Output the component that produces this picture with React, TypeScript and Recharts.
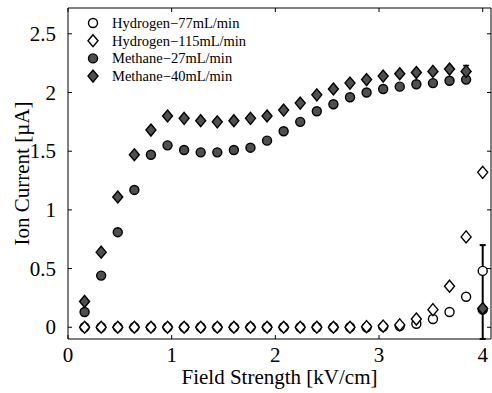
import React from 'react';
import { ScatterChart, Scatter, XAxis, YAxis, ErrorBar, Legend } from 'recharts';

// Field strength steps [kV/cm]
const fieldStrength = [
  0.16, 0.32, 0.48, 0.64, 0.8, 0.96, 1.12, 1.28, 1.44, 1.6, 1.76, 1.92, 2.08,
  2.24, 2.4, 2.56, 2.72, 2.88, 3.04, 3.2, 3.36, 3.52, 3.68, 3.84, 4.0,
];

// Ion current [µA] per gas / flow rate
const hydrogen77 = [
  0, 0, 0, 0, 0, 0, 0, 0, 0, 0, 0, 0, 0, 0, 0, 0, 0, 0, 0.005, 0.01, 0.03,
  0.07, 0.13, 0.26, 0.48,
];
const hydrogen115 = [
  0, 0, 0, 0, 0, 0, 0, 0, 0, 0, 0, 0, 0, 0, 0, 0, 0, 0.005, 0.01, 0.02, 0.07,
  0.15, 0.35, 0.77, 1.32,
];
const methane27 = [
  0.13, 0.44, 0.81, 1.17, 1.47, 1.55, 1.51, 1.49, 1.49, 1.51, 1.53, 1.59, 1.67,
  1.75, 1.84, 1.9, 1.96, 2.0, 2.03, 2.05, 2.07, 2.08, 2.1, 2.11, 0.15,
];
const methane40 = [
  0.22, 0.64, 1.11, 1.47, 1.68, 1.8, 1.78, 1.76, 1.75, 1.76, 1.78, 1.8, 1.85,
  1.91, 1.98, 2.03, 2.08, 2.11, 2.14, 2.16, 2.17, 2.18, 2.2, 2.18, 0.16,
];

// Error bars [lower, upper], keyed by field strength
const methane27Errors: Record<string, [number, number]> = { '4': [0.25, 0.55] };
const methane40Errors: Record<string, [number, number]> = { '3.84': [0.05, 0.05] };

const xTicks = [0, 1, 2, 3, 4];
const yTicks = [0, 0.5, 1, 1.5, 2, 2.5];

const seriesNames = [
  'Hydrogen\u221277mL/min',
  'Hydrogen\u2212115mL/min',
  'Methane\u221227mL/min',
  'Methane\u221240mL/min',
];

const FONT = '"Liberation Serif", "Times New Roman", serif';
const DARK = '#4f4f4f';
const TICK_LEN = 4;

const build = (values: number[], errors?: Record<string, [number, number]>) =>
  fieldStrength.map((x, i) => ({
    x,
    y: values[i],
    err: errors ? errors[String(x)] : undefined,
  }));

type MarkerKind = 'openCircle' | 'openDiamond' | 'filledCircle' | 'filledDiamond';

const Marker = ({ kind, cx, cy }: { kind: MarkerKind; cx: number; cy: number }) => {
  const fill = kind.startsWith('open') ? '#ffffff' : DARK;
  if (kind.endsWith('Circle')) {
    return <circle cx={cx} cy={cy} r={4.5} fill={fill} stroke="#000" strokeWidth={1.4} />;
  }
  const w = 5;
  const h = 6;
  return (
    <polygon
      points={`${cx},${cy - h} ${cx + w},${cy} ${cx},${cy + h} ${cx - w},${cy}`}
      fill={fill}
      stroke="#000"
      strokeWidth={1.4}
      strokeLinejoin="miter"
    />
  );
};

const shapeOf = (kind: MarkerKind) => (p: any) =>
  p.cx == null || p.cy == null ? <g /> : <Marker kind={kind} cx={p.cx} cy={p.cy} />;

const kinds: MarkerKind[] = ['openCircle', 'openDiamond', 'filledCircle', 'filledDiamond'];

const fmt = (v: number) => String(v);

// Inward tick marks plus labels (tickSize/tickMargin are 0, so x/y sit on the axis line)
const BottomTick = ({ x, y, payload }: any) => (
  <g>
    <line x1={x} y1={y} x2={x} y2={y - TICK_LEN} stroke="#000" />
    <text x={x} y={y + 23} textAnchor="middle" fontFamily={FONT} fontSize={21} fill="#000">
      {fmt(payload.value)}
    </text>
  </g>
);
const TopTick = ({ x, y }: any) => (
  <line x1={x} y1={y} x2={x} y2={y + TICK_LEN} stroke="#000" />
);
const LeftTick = ({ x, y, payload }: any) => (
  <g>
    <line x1={x} y1={y} x2={x + TICK_LEN} y2={y} stroke="#000" />
    <text x={x - 12} y={y} textAnchor="end" dominantBaseline="central" fontFamily={FONT} fontSize={21} fill="#000">
      {fmt(payload.value)}
    </text>
  </g>
);
const RightTick = ({ x, y }: any) => (
  <line x1={x} y1={y} x2={x - TICK_LEN} y2={y} stroke="#000" />
);

const LegendBox = () => (
  <svg width={175} height={72} style={{ display: 'block' }}>
    {seriesNames.map((name, i) => (
      <g key={name}>
        <Marker kind={kinds[i]} cx={9} cy={9 + i * 17.7} />
        <text
          x={28}
          y={9 + i * 17.7}
          dominantBaseline="central"
          fontFamily={FONT}
          fontSize={14.5}
          fill="#000"
        >
          {name}
        </text>
      </g>
    ))}
  </svg>
);

const YLabel = (props: any) => {
  const vb = props.viewBox || {};
  const x = vb.x + 22;
  const y = vb.y + vb.height / 2;
  return (
    <text
      x={x}
      y={y}
      transform={`rotate(-90 ${x} ${y})`}
      textAnchor="middle"
      dominantBaseline="central"
      fontFamily={FONT}
      fontSize={21}
      fill="#000"
    >
      Ion Current [µA]
    </text>
  );
};

const XLabel = (props: any) => {
  const vb = props.viewBox || {};
  const x = vb.x + vb.width / 2;
  const y = vb.y + 38;
  return (
    <text
      x={x}
      y={y}
      textAnchor="middle"
      dominantBaseline="central"
      fontFamily={FONT}
      fontSize={21}
      fill="#000"
    >
      Field Strength [kV/cm]
    </text>
  );
};

export default function App() {
  const xDomain: [number, number] = [0, 4.08];
  const yDomain: [number, number] = [-0.1, 2.72];
  const axisLine = { stroke: '#000', strokeWidth: 1 };
  return (
    <div style={{ position: 'absolute', left: 0, top: 0, width: 492, height: 393, background: '#fff' }}>
      <ScatterChart width={492} height={393} margin={{ top: 7, right: 0, bottom: 0, left: 0 }}>
        <XAxis
          xAxisId="main"
          type="number"
          dataKey="x"
          domain={xDomain}
          allowDataOverflow
          ticks={xTicks}
          interval={0}
          height={54}
          tickSize={0}
          tickMargin={0}
          tick={<BottomTick />}
          tickLine={false}
          axisLine={axisLine}
          label={<XLabel />}
        />
        <XAxis
          xAxisId="top"
          orientation="top"
          type="number"
          dataKey="x"
          domain={xDomain}
          allowDataOverflow
          ticks={xTicks}
          interval={0}
          height={1}
          tickSize={0}
          tickMargin={0}
          tick={<TopTick />}
          tickLine={false}
          axisLine={axisLine}
        />
        <YAxis
          yAxisId="main"
          type="number"
          dataKey="y"
          domain={yDomain}
          allowDataOverflow
          ticks={yTicks}
          interval={0}
          width={68}
          tickSize={0}
          tickMargin={0}
          tick={<LeftTick />}
          tickLine={false}
          axisLine={axisLine}
          label={<YLabel />}
        />
        <YAxis
          yAxisId="right"
          orientation="right"
          type="number"
          dataKey="y"
          domain={yDomain}
          allowDataOverflow
          ticks={yTicks}
          interval={0}
          width={1}
          tickSize={0}
          tickMargin={0}
          tick={<RightTick />}
          tickLine={false}
          axisLine={axisLine}
        />
        {/* invisible series binding the frame axes */}
        <Scatter
          xAxisId="top"
          yAxisId="right"
          data={[]}
          isAnimationActive={false}
          legendType="none"
        />
        <Scatter
          xAxisId="main"
          yAxisId="main"
          name={seriesNames[0]}
          data={build(hydrogen77)}
          shape={shapeOf('openCircle')}
          isAnimationActive={false}
        />
        <Scatter
          xAxisId="main"
          yAxisId="main"
          name={seriesNames[1]}
          data={build(hydrogen115)}
          shape={shapeOf('openDiamond')}
          isAnimationActive={false}
        />
        <Scatter
          xAxisId="main"
          yAxisId="main"
          name={seriesNames[2]}
          data={build(methane27, methane27Errors)}
          shape={shapeOf('filledCircle')}
          isAnimationActive={false}
        >
          <ErrorBar dataKey="err" direction="y" width={3} strokeWidth={2} stroke="#000" isAnimationActive={false} />
        </Scatter>
        <Scatter
          xAxisId="main"
          yAxisId="main"
          name={seriesNames[3]}
          data={build(methane40, methane40Errors)}
          shape={shapeOf('filledDiamond')}
          isAnimationActive={false}
        >
          <ErrorBar dataKey="err" direction="y" width={3} strokeWidth={1.5} stroke="#000" isAnimationActive={false} />
        </Scatter>
        <Legend
          layout="vertical"
          align="center"
          verticalAlign="middle"
          wrapperStyle={{ left: 84, top: 14, width: 175, height: 72 }}
          content={() => <LegendBox />}
        />
      </ScatterChart>
    </div>
  );
}
